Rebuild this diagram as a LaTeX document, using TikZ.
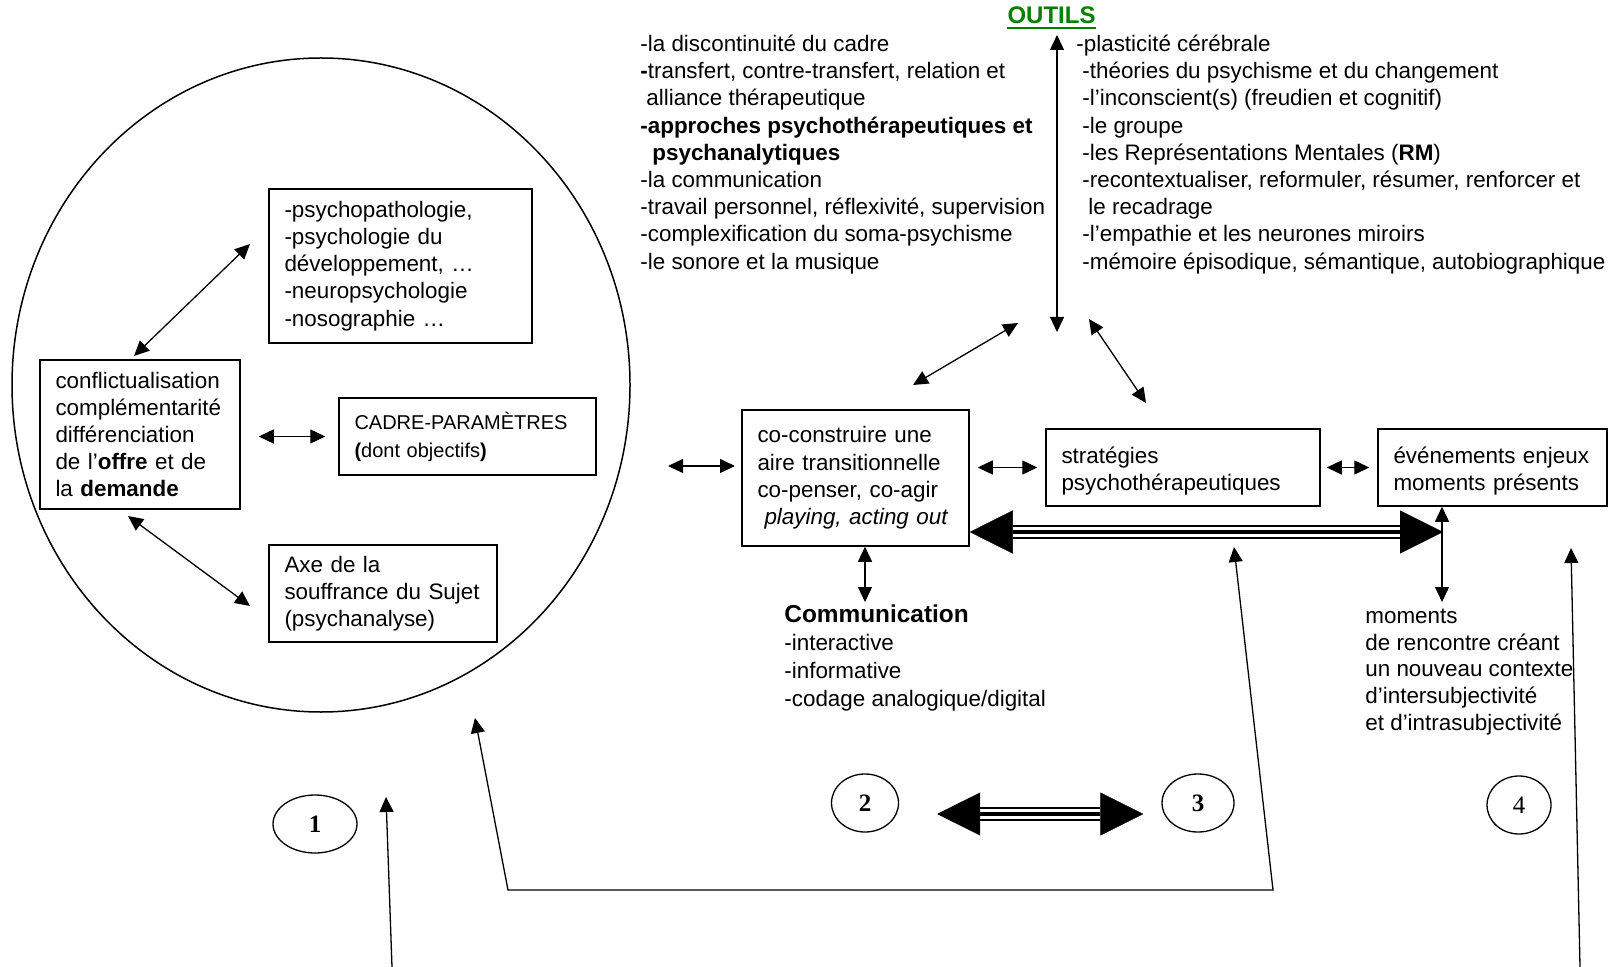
\documentclass[tikz,border=0pt]{standalone}
\usepackage{fontspec}
\setmainfont{Liberation Sans}
\newfontfamily\romain{Liberation Serif}
\usetikzlibrary{arrows.meta,shapes.geometric}
\definecolor{vert}{RGB}{0,128,0}

\tikzset{
  texte/.style={align=left, inner sep=0pt, anchor=north west},
  boite/.style={draw, line width=0.75pt, align=left, inner xsep=7.75pt, inner ysep=0pt},
  fleche/.style={{Triangle[length=7.5pt,width=7pt]}-{Triangle[length=7.5pt,width=7pt]}, line width=0.65pt},
  montee/.style={-{Triangle[length=7.5pt,width=7pt]}, line width=0.65pt},
  pointes/.style={{Triangle[length=21.5pt,width=21.5pt]}-{Triangle[length=21.5pt,width=21.5pt]}, line width=0.2pt},
  triple/.style={draw=white, line width=4.6pt, shorten <=21.5pt, shorten >=21.5pt,
    preaction={draw=black, line width=7pt, shorten <=21.5pt, shorten >=21.5pt},
    postaction={draw=black, line width=1.9pt, shorten <=21.5pt, shorten >=21.5pt}},
  numero/.style={draw, ellipse, line width=0.65pt, inner sep=0pt, minimum height=29pt,
    font=\romain\fontsize{12.5}{14}\selectfont}
}

\begin{document}
\begin{tikzpicture}[x=0.5pt, y=-0.5pt, font=\fontsize{11.2}{13.6}\selectfont]
  \useasboundingbox (0,0) rectangle (1620,967);

  % la bulle de gauche
  \draw[line width=0.75pt] (321,385) ellipse [x radius=309, y radius=327];

  \node[boite, text width=116pt, minimum height=77pt] (psycho) at (400.5,266)
    {-psychopathologie,\\-psychologie du\\développement, …\\-neuropsychologie\\-nosographie …};
  \node[boite, text width=84.5pt, minimum height=74.5pt] (conflit) at (140,434.5)
    {conflictualisation\\complémentarité\\différenciation\\de l’\textbf{offre} et de\\la \textbf{demande}};
  \node[boite, text width=113pt, minimum height=38.5pt, font=\fontsize{10}{14}\selectfont] (cadre) at (467.5,436.5)
    {CADRE-PARAMÈTRES\\\textbf{(}dont objectifs\textbf{)}};
  \node[boite, text width=98.5pt, minimum height=48.5pt] (axe) at (383,593.5)
    {Axe de la\\souffrance du Sujet\\(psychanalyse)};

  \coordinate (conflit haut) at (134,356);
  \coordinate (psycho gauche) at (250,244);
  \coordinate (conflit bas) at (128,516);
  \coordinate (axe gauche) at (250,606);
  \draw[fleche] (conflit haut) -- (psycho gauche);
  \draw[fleche, shorten <=9pt, shorten >=6.5pt] (conflit.east |- cadre.west) -- (cadre.west);
  \draw[fleche] (conflit bas) -- (axe gauche);

  % les outils
  \node[inner sep=0pt, anchor=base, text=vert, font=\bfseries\fontsize{12}{14}\selectfont] (outils) at (1051.5,24) {OUTILS};
  \draw[vert, line width=1pt] ([yshift=-2pt]outils.base west) -- ([yshift=-2pt]outils.base east);

  \node[texte] (outils gauche) at (640,32)
    {\strut-la discontinuité du cadre\\
     \textbf{-}transfert, contre-transfert, relation et\\
     \hspace*{3pt}alliance thérapeutique\\
     \textbf{-approches psychothérapeutiques et}\\
     \hspace*{6pt}\textbf{psychanalytiques}\\
     -la communication\\
     -travail personnel, réflexivité, supervision\\
     -complexification du soma-psychisme\\
     -le sonore et la musique};
  \node[texte] (outils droite) at (1076,32)
    {\strut-plasticité cérébrale\\
     \hspace*{3pt}-théories du psychisme et du changement\\
     \hspace*{3pt}-l’inconscient(s) (freudien et cognitif)\\
     \hspace*{3pt}-le groupe\\
     \hspace*{3pt}-les Représentations Mentales (\textbf{RM})\\
     \hspace*{3pt}-recontextualiser, reformuler, résumer, renforcer et\\
     \hspace*{6pt}le recadrage\\
     \hspace*{3pt}-l’empathie et les neurones miroirs\\
     \hspace*{3pt}-mémoire épisodique, sémantique, autobiographique};

  \coordinate (outils haut) at (1057,35);
  \coordinate (outils bas) at (1057,332);
  \coordinate (vers coconstruire) at (913,385);
  \coordinate (depuis coconstruire) at (1018,323);
  \coordinate (depuis strategies) at (1089,319);
  \coordinate (vers strategies) at (1146,403);
  \draw[fleche] (outils haut) -- (outils bas);
  \draw[fleche] (vers coconstruire) -- (depuis coconstruire);
  \draw[fleche] (depuis strategies) -- (vers strategies);

  % la ligne du milieu
  \node[boite, text width=98pt, minimum height=68pt] (coconstruire) at (855.5,478)
    {co-construire une\\aire transitionnelle\\co-penser, co-agir\\\hspace*{3.5pt}\textit{playing, acting out}};
  \node[boite, text width=121.5pt, minimum height=38.5pt, text depth=12pt] (strategies) at (1183,467.5)
    {stratégies\\psychothérapeutiques};
  \node[boite, text width=99pt, minimum height=38.5pt, text depth=12pt] (evenements) at (1492.5,467.5)
    {événements enjeux\\moments présents};

  \coordinate (bulle droite) at (668,466);
  \draw[fleche] (bulle droite) -- (735,466);
  \draw[fleche, shorten <=4pt, shorten >=4pt] (coconstruire.east |- strategies.west) -- (strategies.west);
  \draw[fleche, shorten <=3pt, shorten >=4pt] (strategies.east) -- (evenements.west);

  \coordinate (jonction) at (1443,532);
  \draw[triple] (coconstruire.east |- jonction) -- (jonction);
  \draw[pointes] (coconstruire.east |- jonction) -- (jonction);

  % en dessous
  \node[texte, font=\fontsize{11.2}{14}\selectfont] (communication) at (784,602.4)
    {\strut\textbf{\fontsize{12.2}{14}\selectfont Communication}\\-interactive\\-informative\\-codage analogique/digital};
  \node[texte, font=\fontsize{11.2}{13.4}\selectfont] (moments) at (1365,604.2)
    {\strut moments\\de rencontre créant\\un nouveau contexte\\d’intersubjectivité\\et d’intrasubjectivité};

  \coordinate (comm pointe) at (865,602);
  \coordinate (moments pointe) at (1442,602);
  \draw[fleche] (coconstruire.south -| comm pointe) -- (comm pointe);
  \draw[fleche] (evenements.south -| moments pointe) -- (moments pointe);

  % les numeros
  \node[numero, minimum width=42pt] (un) at (315,824) {\textbf{1}};
  \node[numero, minimum width=33.5pt] (deux) at (865,803) {\textbf{2}};
  \node[numero, minimum width=36pt] (trois) at (1198,803) {\textbf{3}};
  \node[numero, minimum width=32pt] (quatre) at (1519,805) {4};

  \draw[triple] ([xshift=19pt,yshift=-5.5pt]deux.east) -- ([xshift=-9pt,yshift=-5.5pt]trois.west);
  \draw[pointes] ([xshift=19pt,yshift=-5.5pt]deux.east) -- ([xshift=-9pt,yshift=-5.5pt]trois.west);

  % les retours du bas
  \coordinate (un pied) at (392,967);
  \coordinate (un pointe) at (386,797);
  \coordinate (retour haut) at (1234,547);
  \coordinate (retour coin droit) at (1273,890);
  \coordinate (retour coin gauche) at (508,890);
  \coordinate (retour bulle) at (475,718);
  \coordinate (quatre pied) at (1580,967);
  \coordinate (quatre pointe) at (1571,548);
  \draw[montee] (un pied) -- (un pointe);
  \draw[fleche] (retour haut) -- (retour coin droit) -- (retour coin gauche) -- (retour bulle);
  \draw[montee] (quatre pied) -- (quatre pointe);
\end{tikzpicture}
\end{document}
